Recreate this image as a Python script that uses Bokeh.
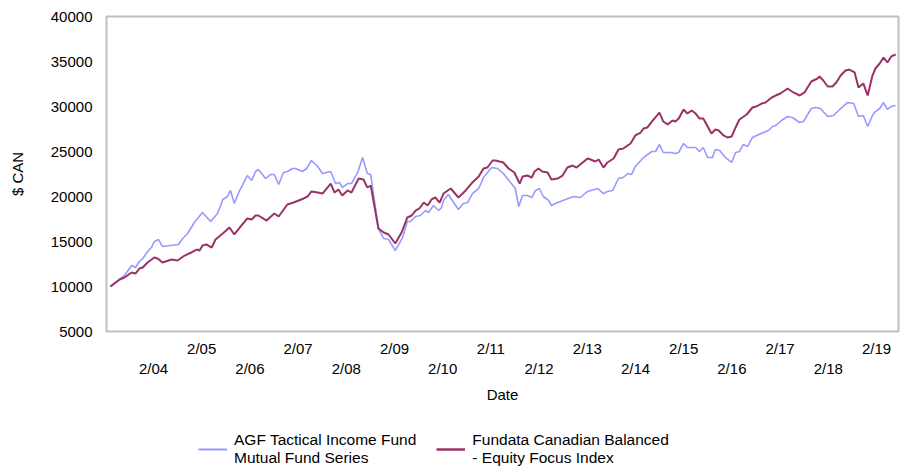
from bokeh.plotting import figure
from bokeh.layouts import column
from bokeh.models import (Range1d, LinearAxis, FixedTicker, Legend, LegendItem)
from bokeh.embed import file_html
from bokeh.resources import INLINE

# ---- data ----
agf_dates = [2003.19, 2003.38, 2003.48, 2003.63, 2003.71, 2003.79, 2003.86, 2003.96, 2004.04, 2004.10,
             2004.19, 2004.27, 2004.60, 2004.69, 2004.79, 2004.93, 2005.10, 2005.27, 2005.41, 2005.47,
             2005.52, 2005.62, 2005.68, 2005.76, 2005.85, 2006.03, 2006.12, 2006.20, 2006.26, 2006.41,
             2006.51, 2006.59, 2006.68, 2006.78, 2006.86, 2006.97, 2007.03, 2007.17, 2007.26, 2007.36,
             2007.49, 2007.59, 2007.76, 2007.86, 2007.94, 2008.00, 2008.11, 2008.19, 2008.32, 2008.42,
             2008.52, 2008.59, 2008.75, 2008.86, 2008.96, 2009.10, 2009.25, 2009.35, 2009.42, 2009.52,
             2009.62, 2009.73, 2009.79, 2009.89, 2010.00, 2010.06, 2010.10, 2010.20, 2010.31, 2010.41,
             2010.51, 2010.60, 2010.70, 2010.83, 2010.93, 2011.10, 2011.22, 2011.34, 2011.49, 2011.59,
             2011.66, 2011.74, 2011.84, 2011.93, 2012.01, 2012.09, 2012.17, 2012.28, 2012.34, 2012.42,
             2012.63, 2012.80, 2012.94, 2013.09, 2013.30, 2013.42, 2013.50, 2013.61, 2013.73, 2013.83,
             2013.92, 2014.00, 2014.08, 2014.25, 2014.42, 2014.50, 2014.58, 2014.66, 2014.81, 2014.91,
             2014.98, 2015.08, 2015.16, 2015.33, 2015.41, 2015.49, 2015.58, 2015.68, 2015.74, 2015.83,
             2015.95, 2016.08, 2016.16, 2016.24, 2016.32, 2016.41, 2016.51, 2016.64, 2016.74, 2016.84,
             2016.93, 2016.99, 2017.11, 2017.24, 2017.34, 2017.49, 2017.57, 2017.73, 2017.82, 2017.92,
             2018.07, 2018.19, 2018.32, 2018.48, 2018.61, 2018.71, 2018.81, 2018.90, 2019.00, 2019.06,
             2019.15, 2019.23, 2019.31, 2019.39, 2019.48]
agf_values = [10000, 10780, 11220, 12330, 12110, 12780, 13110, 13890, 14330, 15000,
              15220, 14440, 14670, 15330, 15890, 17110, 18220, 17220, 18110, 18890,
              19670, 20000, 20670, 19220, 20440, 22330, 21780, 22780, 23000, 22000,
              22440, 22440, 21330, 22670, 22780, 23110, 23110, 22780, 23110, 24000,
              23330, 22560, 22780, 21440, 21560, 21000, 21440, 21440, 22670, 24330,
              22560, 22440, 16440, 15330, 15220, 14000, 15440, 17220, 17220, 17780,
              17890, 18440, 18220, 19000, 18440, 18780, 19560, 20220, 19330, 18560,
              19220, 19330, 20330, 20890, 22110, 23220, 23110, 22560, 21560, 20890,
              18890, 20110, 20110, 19890, 20670, 20890, 20000, 19560, 19000, 19220,
              19670, 20000, 19890, 20560, 20890, 20330, 20560, 20670, 22000, 22110,
              22560, 22440, 23330, 24330, 25000, 25000, 25780, 24890, 24890, 24780,
              24890, 25890, 25440, 25440, 25000, 25440, 24330, 24330, 25220, 25110,
              24330, 23780, 24890, 25000, 25780, 25560, 26560, 26890, 27110, 27330,
              27780, 27890, 28440, 28890, 28780, 28220, 28330, 29780, 29890, 29780,
              28890, 29000, 29670, 30440, 30330, 28890, 29000, 27780, 29000, 29440,
              29780, 30440, 29670, 30000, 30110]

idx_dates = [2003.19, 2003.38, 2003.48, 2003.63, 2003.71, 2003.79, 2003.86, 2003.96, 2004.10, 2004.17,
             2004.27, 2004.46, 2004.58, 2004.73, 2004.87, 2004.98, 2005.04, 2005.10, 2005.18, 2005.29,
             2005.37, 2005.52, 2005.66, 2005.76, 2005.91, 2006.03, 2006.12, 2006.20, 2006.26, 2006.43,
             2006.59, 2006.68, 2006.86, 2006.99, 2007.20, 2007.28, 2007.36, 2007.49, 2007.59, 2007.76,
             2007.84, 2007.92, 2008.00, 2008.11, 2008.19, 2008.34, 2008.44, 2008.52, 2008.59, 2008.75,
             2008.86, 2008.96, 2009.10, 2009.23, 2009.35, 2009.44, 2009.52, 2009.60, 2009.69, 2009.77,
             2009.85, 2009.93, 2010.02, 2010.10, 2010.25, 2010.41, 2010.56, 2010.70, 2010.83, 2010.93,
             2011.01, 2011.12, 2011.18, 2011.34, 2011.45, 2011.57, 2011.68, 2011.74, 2011.84, 2011.93,
             2011.99, 2012.07, 2012.15, 2012.26, 2012.34, 2012.47, 2012.57, 2012.67, 2012.78, 2012.86,
             2013.09, 2013.15, 2013.25, 2013.32, 2013.42, 2013.50, 2013.63, 2013.73, 2013.83, 2013.98,
             2014.08, 2014.19, 2014.25, 2014.33, 2014.44, 2014.58, 2014.66, 2014.75, 2014.85, 2014.91,
             2014.98, 2015.08, 2015.16, 2015.25, 2015.33, 2015.41, 2015.49, 2015.66, 2015.74, 2015.81,
             2015.91, 2015.99, 2016.08, 2016.16, 2016.24, 2016.39, 2016.51, 2016.59, 2016.70, 2016.78,
             2016.91, 2016.99, 2017.09, 2017.24, 2017.36, 2017.49, 2017.59, 2017.73, 2017.86, 2017.90,
             2017.98, 2018.07, 2018.17, 2018.25, 2018.34, 2018.44, 2018.52, 2018.63, 2018.71, 2018.81,
             2018.90, 2019.00, 2019.06, 2019.15, 2019.23, 2019.31, 2019.39, 2019.48]
idx_values = [10000, 10780, 11000, 11560, 11440, 12000, 12110, 12670, 13220, 13110,
              12670, 13000, 12890, 13440, 13780, 14110, 14000, 14560, 14670, 14330,
              15220, 15890, 16560, 15780, 16780, 17560, 17440, 17890, 17890, 17330,
              18110, 17780, 19110, 19330, 19780, 20000, 20560, 20440, 20330, 21440,
              20440, 20780, 20110, 20670, 20440, 22000, 21890, 21000, 21220, 16440,
              16000, 15780, 14780, 16000, 17670, 17890, 18440, 18670, 19330, 19000,
              19670, 19890, 19330, 20330, 20890, 19890, 20670, 21560, 22220, 23110,
              23220, 24000, 24000, 23780, 23110, 22670, 21440, 22220, 22330, 22110,
              22780, 23110, 22780, 22670, 21890, 22000, 22330, 23220, 23440, 23220,
              24220, 24110, 23890, 24110, 23220, 23780, 24220, 25220, 25330, 25890,
              26780, 27110, 27560, 27670, 28440, 29330, 28330, 28000, 28440, 28330,
              28670, 29670, 29220, 29560, 29220, 28670, 28670, 27000, 27440, 27330,
              26780, 26560, 26670, 27670, 28560, 29110, 29890, 30000, 30330, 30440,
              31000, 31220, 31440, 32000, 31560, 31220, 31560, 32780, 33110, 33330,
              32890, 32220, 32220, 32670, 33440, 34000, 34110, 33780, 32110, 32560,
              31220, 33440, 34220, 34780, 35440, 34890, 35560, 35780]

y_ticks = [5000, 10000, 15000, 20000, 25000, 30000, 35000, 40000]
tick_years_row1 = [2005, 2007, 2009, 2011, 2013, 2015, 2017, 2019]
tick_years_row2 = [2004, 2006, 2008, 2010, 2012, 2014, 2016, 2018]
series_names = ["AGF Tactical Income Fund\nMutual Fund Series",
                "Fundata Canadian Balanced\n- Equity Focus Index"]
series_colors = ["#9999ff", "#993366"]

FONT = "Liberation Sans"
TEXT = "#000000"
NAN = float("nan")

p = figure(width=900, height=410, output_backend="svg", toolbar_location=None,
           x_range=Range1d(2003.108, 2019.54), y_range=Range1d(5000, 40000),
           x_axis_location=None, y_axis_location=None,
           min_border_left=106, min_border_right=2, min_border_top=16, min_border_bottom=79)
p.xgrid.visible = False
p.ygrid.visible = False
p.outline_line_color = "#c0c0c0"
p.outline_line_width = 2
p.background_fill_color = "white"
p.border_fill_color = "white"

p.line(agf_dates, agf_values, line_color=series_colors[0], line_width=1.6)
p.line(idx_dates, idx_values, line_color=series_colors[1], line_width=2)

# y axis
yax = LinearAxis(ticker=FixedTicker(ticks=y_ticks), axis_label="$ CAN")
yax.axis_line_color = None
yax.major_tick_line_color = None
yax.minor_tick_line_color = None
yax.major_tick_out = 0
yax.major_tick_in = 0
yax.minor_tick_out = 0
yax.major_label_text_font = FONT
yax.major_label_text_font_size = "15px"
yax.major_label_text_color = TEXT
yax.major_label_standoff = 14
yax.axis_label_text_font = FONT
yax.axis_label_text_font_size = "15px"
yax.axis_label_text_font_style = "normal"
yax.axis_label_text_color = TEXT
yax.axis_label_standoff = 22
p.add_layout(yax, "left")

def feb(y):
    return y + 1.0 / 12.0

def make_xaxis(years, standoff):
    ticks = [feb(y) for y in years]
    ax = LinearAxis(ticker=FixedTicker(ticks=ticks))
    ax.major_label_overrides = {feb(y): "2/%02d" % (y % 100) for y in years}
    ax.axis_line_color = None
    ax.major_tick_line_color = None
    ax.minor_tick_line_color = None
    ax.major_tick_out = 0
    ax.major_tick_in = 0
    ax.minor_tick_out = 0
    ax.major_label_text_font = FONT
    ax.major_label_text_font_size = "15px"
    ax.major_label_text_color = TEXT
    ax.major_label_standoff = standoff
    return ax

xax1 = make_xaxis(tick_years_row1, 8)
p.add_layout(xax1, "below")
xax2 = make_xaxis(tick_years_row2, 0)
xax2.axis_label = "Date"
xax2.axis_label_text_font = FONT
xax2.axis_label_text_font_size = "15px"
xax2.axis_label_text_font_style = "normal"
xax2.axis_label_text_color = TEXT
xax2.axis_label_standoff = 6
p.add_layout(xax2, "below")

# legend strip below the chart
lf = figure(width=900, height=57, output_backend="svg", toolbar_location=None,
            x_range=Range1d(0, 1), y_range=Range1d(0, 1),
            x_axis_location=None, y_axis_location=None,
            min_border_left=0, min_border_right=0, min_border_top=0, min_border_bottom=0)
lf.xgrid.visible = False
lf.ygrid.visible = False
lf.outline_line_color = None
lf.background_fill_color = "white"
lf.border_fill_color = "white"
k_agf = lf.line([NAN], [NAN], line_color=series_colors[0], line_width=2)
k_idx = lf.line([NAN], [NAN], line_color=series_colors[1], line_width=2.5)

legend = Legend(items=[LegendItem(label=series_names[0], renderers=[k_agf]),
                       LegendItem(label=series_names[1], renderers=[k_idx])],
                orientation="horizontal", location=(92, 0))
legend.label_text_font = FONT
legend.label_text_font_size = "15.5px"
legend.label_text_color = TEXT
legend.glyph_width = 29
legend.glyph_height = 20
legend.label_standoff = 7
legend.spacing = 20
legend.padding = 0
legend.margin = 0
legend.border_line_color = None
legend.background_fill_alpha = 0
lf.add_layout(legend)

open("out.html", "w").write(file_html(column(p, lf), INLINE))
